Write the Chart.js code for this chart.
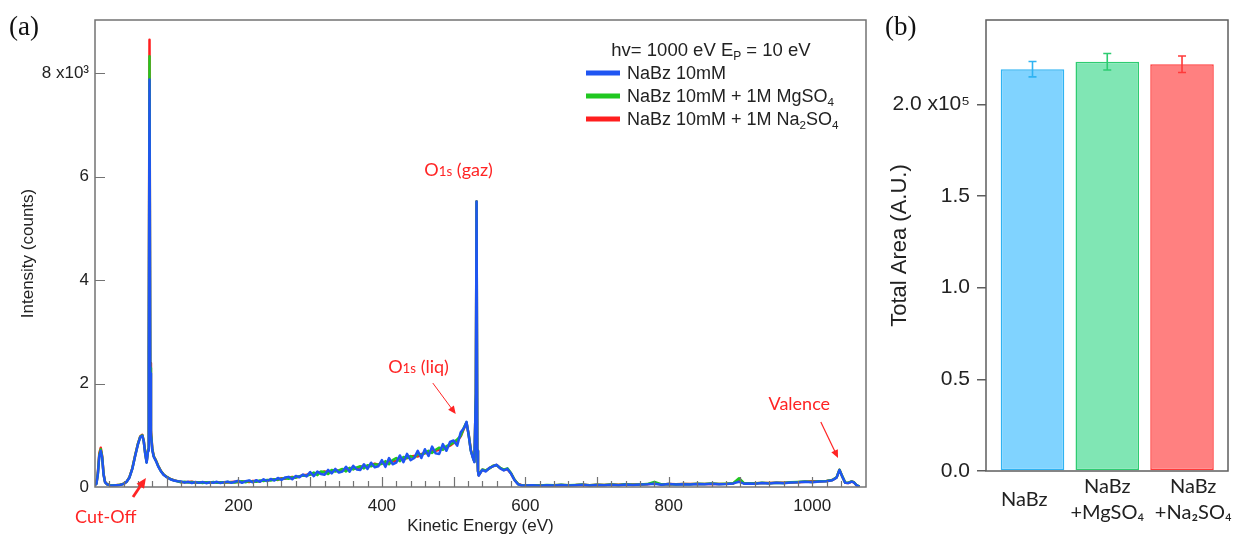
<!DOCTYPE html>
<html>
<head>
<meta charset="utf-8">
<script src="https://cdn.jsdelivr.net/npm/chart.js@4.4.1/dist/chart.umd.min.js"></script>
<style>
  body { margin: 0; background: #fff; width: 1234px; height: 540px; position: relative; overflow: hidden; }
  canvas { position: absolute; top: 0; }
  #spectre { left: 0; }
  #aire { left: 875px; }
</style>
</head>
<body>
<canvas id="spectre" width="875" height="540"></canvas>
<canvas id="aire" width="359" height="540"></canvas>
<script>
// (a) spectres : energie cinetique (eV) et intensite (coups)
const energy = [
  0, 2, 4, 6, 8, 10, 12, 14, 17, 20, 25, 30, 35, 40,
  44, 48, 52, 56, 60, 63, 66, 68, 70, 72, 74, 75, 76, 77, 78, 80, 82, 85, 88, 92, 96, 100, 105, 110, 115,
  120, 125, 130, 135, 140, 145, 150, 155, 160, 165, 170, 175, 180, 185, 190, 195,
  200, 205, 210, 215, 220, 225, 230, 235, 240, 245, 250, 255, 260, 265, 270, 275, 280, 285, 290, 295,
  300, 305, 310, 315, 320, 325, 330, 335, 340, 345, 350, 355, 360, 365, 370, 375, 380, 385, 390, 395,
  400, 405, 410, 415, 420, 425, 430, 435, 440, 445, 450, 455, 460, 465, 470, 475, 480, 485, 490, 495,
  500, 505, 510, 515,
  518, 521, 524, 527, 529, 531, 532, 533, 534,
  535, 540, 545, 550, 555, 560, 565, 570, 575, 580, 585, 590, 595, 600,
  610, 620, 630, 640, 650, 660, 670, 680, 690, 700, 710, 720, 730, 740, 750, 760, 770, 780, 790, 800,
  810, 820, 830, 840, 850, 860, 870, 880, 890,
  898, 905, 910, 920, 930, 940, 950, 960, 970, 980, 990, 1000, 1010, 1020,
  1028, 1034, 1038, 1042, 1046, 1050, 1055, 1058, 1062, 1066
];
const nabz = [
  40, 60, 250, 600, 700, 560, 230, 90, 50, 35, 30, 35, 40, 60,
  100, 180, 350, 600, 830, 960, 990, 880, 640, 470, 700, 2500, 7880, 2200, 1000, 700, 580, 500, 400, 300, 230, 190, 150, 125, 110,
  108, 84, 100, 78, 96, 80, 98, 74, 92, 82, 100, 76, 94, 104, 80, 102,
  120, 80, 112, 128, 90, 132, 100, 148, 112, 156, 124, 176, 138, 182, 196, 150, 214, 188, 240, 206,
  290, 210, 300, 250, 236, 330, 262, 350, 280, 300, 390, 296, 410, 340, 330, 440, 350, 470, 380, 400,
  520, 390, 560, 440, 470, 610, 480, 640, 520, 560, 700, 560, 730, 600, 780, 650, 640, 830, 700, 870,
  900, 800, 1060, 1150,
  1260, 1000, 700, 560, 480, 1800, 5520, 700, 300,
  220, 330, 300, 370, 400, 430, 360, 320, 350, 260, 130, 50, 30, 28,
  32, 26, 35, 30, 40, 30, 36, 44, 30, 40, 35, 45, 36, 50, 40, 46, 52, 62, 44, 56,
  46, 55, 50, 60, 54, 64, 55, 60, 70,
  100, 65, 70, 64, 76, 70, 80, 74, 86, 90, 100, 94, 105, 110,
  130, 180, 330, 200, 80, 75, 105, 90, 30, 5
];
const nabzMg = [
  40, 65, 260, 620, 730, 580, 240, 95, 50, 38, 32, 36, 42, 62,
  100, 185, 355, 610, 840, 970, 1000, 885, 650, 480, 720, 2600, 8330, 2300, 1050, 720, 590, 510, 410, 305, 235, 195, 155, 128, 112,
  92, 100, 86, 96, 84, 92, 78, 90, 84, 96, 80, 94, 86, 98, 92, 88,
  100, 110, 92, 118, 106, 100, 128, 114, 138, 126, 150, 142, 160, 172, 158, 190, 180, 210, 222, 218,
  240, 280, 230, 300, 290, 250, 330, 300, 320, 350, 300, 370, 340, 380, 400, 360, 420, 400, 440, 430,
  450, 500, 440, 520, 560, 500, 580, 560, 600, 560, 640, 620, 660, 700, 660, 720, 760, 720, 790, 820,
  860, 920, 990, 1170,
  1250, 1010, 710, 570, 490, 1800, 5520, 700, 310,
  230, 340, 320, 360, 410, 420, 370, 335, 360, 270, 140, 55, 32, 30,
  35, 30, 38, 34, 42, 34, 40, 46, 34, 44, 38, 48, 40, 52, 44, 50, 56, 100, 48, 58,
  50, 58, 54, 62, 58, 66, 58, 64, 72,
  170, 70, 74, 70, 80, 74, 84, 78, 90, 96, 104, 98, 110, 116,
  136, 186, 335, 205, 85, 80, 108, 94, 34, 8
];
const nabzNa = [
  40, 70, 280, 650, 760, 600, 250, 100, 52, 40, 34, 38, 44, 64,
  100, 190, 360, 615, 845, 975, 1010, 890, 655, 485, 730, 2700, 8650, 2400, 1100, 730, 595, 515, 415, 310, 238, 198, 158, 130, 114,
  98, 90, 96, 100, 88, 84, 92, 88, 80, 90, 94, 84, 92, 88, 96, 100,
  90, 104, 108, 96, 116, 118, 108, 132, 126, 140, 148, 136, 170, 160, 178, 196, 186, 200, 230, 236,
  250, 240, 280, 270, 300, 290, 300, 330, 310, 340, 330, 360, 380, 350, 390, 400, 400, 420, 450, 430,
  470, 460, 490, 500, 500, 550, 540, 560, 590, 600, 590, 640, 650, 660, 690, 700, 720, 740, 770, 800,
  850, 890, 980, 1150,
  1240, 1020, 720, 575, 495, 1800, 5520, 700, 315,
  225, 335, 315, 365, 405, 425, 365, 330, 345, 262, 138, 58, 34, 32,
  34, 32, 36, 36, 40, 36, 38, 44, 36, 42, 40, 46, 42, 50, 46, 48, 54, 70, 50, 56,
  52, 56, 56, 60, 60, 64, 60, 62, 70,
  150, 68, 72, 72, 78, 76, 82, 80, 88, 94, 102, 110, 108, 114,
  134, 184, 332, 204, 84, 78, 106, 92, 32, 6
];
const seriesLabels = ['NaBz 10mM', 'NaBz 10mM + 1M MgSO₄', 'NaBz 10mM + 1M Na₂SO₄'];
const seriesColors = ['#1f55f2', '#20c820', '#ff1e1e'];
const legendTitle = 'hv= 1000 eV Eₚ = 10 eV';
const yTicksA = [0, 2000, 4000, 6000, 8000];
const xMajor = [200, 400, 600, 800, 1000];

// (b) aire totale par echantillon
const samples = ['NaBz', ['NaBz', '+MgSO₄'], ['NaBz', '+Na₂SO₄']];
const labelAt = [-0.11, 1, 2.15];
const totalArea = [219200, 223200, 221900];
const areaErr = [4200, 4500, 4500];
const barFill = ['#80d3ff', '#80e6b4', '#ff8080'];
const barEdge = ['#2fb3f2', '#2ecc71', '#ff3a3a'];
const yTicksB = [0, 50000, 100000, 150000, 200000];

Chart.defaults.font.family = '"Liberation Sans", Arial, sans-serif';
Chart.defaults.color = '#222';

// texte avec indices (SO₄, Eₚ)
function textParts(str) {
  const sub = '₀₁₂₃₄₅₆₇₈₉ₚ', plain = '0123456789P';
  const out = [];
  for (const ch of str) {
    const k = sub.indexOf(ch);
    const kind = k >= 0 ? 'sub' : '';
    const c = k >= 0 ? plain[k] : ch;
    const last = out[out.length - 1];
    if (last && last[1] === kind) last[0] += c; else out.push([c, kind]);
  }
  return out;
}

function drawRich(ctx, parts, x, y, size, family, align) {
  const sizeFor = kind => kind === 'sub' ? size * 0.65 : kind === 'small' ? size * 0.74 : size;
  let total = 0;
  parts.forEach(([t, kind]) => { ctx.font = sizeFor(kind) + 'px ' + family; total += ctx.measureText(t).width; });
  let cx = align === 'center' ? x - total / 2 : x;
  const base = y + size * 0.36;
  ctx.textAlign = 'left';
  ctx.textBaseline = 'alphabetic';
  parts.forEach(([t, kind]) => {
    ctx.font = sizeFor(kind) + 'px ' + family;
    ctx.fillText(t, cx, kind === 'sub' ? base + size * 0.22 : base);
    cx += ctx.measureText(t).width;
  });
}

function arrow(ctx, x1, y1, x2, y2, w, head) {
  const a = Math.atan2(y2 - y1, x2 - x1), c = Math.cos(a), s = Math.sin(a);
  ctx.lineWidth = w;
  ctx.beginPath();
  ctx.moveTo(x1, y1);
  ctx.lineTo(x2 - c * head * 0.8, y2 - s * head * 0.8);
  ctx.stroke();
  ctx.beginPath();
  ctx.moveTo(x2, y2);
  ctx.lineTo(x2 - head * c + head * 0.45 * s, y2 - head * s - head * 0.45 * c);
  ctx.lineTo(x2 - head * c - head * 0.45 * s, y2 - head * s + head * 0.45 * c);
  ctx.closePath();
  ctx.fill();
}

// annotations en coordonnees (eV, coups)
const notes = [
  { parts: [['O', ''], ['1s', 'small'], [' (gaz)', '']], e: 507, v: 6130 },
  { parts: [['O', ''], ['1s', 'small'], [' (liq)', '']], e: 451, v: 2320 },
  { parts: [['Valence', '']], e: 982, v: 1605 },
  { parts: [['Cut-Off', '']], e: 15, v: -580 }
];
const arrows = [
  { from: [471, 2010], to: [503, 1410], w: 1, head: 8 },
  { from: [1012, 1257], to: [1036, 560], w: 1.2, head: 8 },
  { from: [53, -193], to: [71, 175], w: 2.8, head: 10 }
];

const decorA = {
  id: 'decorA',
  afterDraw(chart) {
    const { ctx, chartArea: a, scales: { x, y } } = chart;
    ctx.save();
    ctx.strokeStyle = '#737373';
    ctx.lineWidth = 1.5;
    ctx.strokeRect(a.left, a.top, a.right - a.left, a.bottom - a.top);
    // graduations vers l'interieur
    ctx.lineWidth = 1.2;
    ctx.beginPath();
    x.ticks.forEach(t => {
      if (t.value <= 0 || t.value % 20) return;
      const px = Math.round(x.getPixelForValue(t.value)) + 0.5;
      const len = t.value % 100 === 0 ? 10 : 6;
      ctx.moveTo(px, a.bottom);
      ctx.lineTo(px, a.bottom - len);
    });
    yTicksA.forEach(v => {
      if (v === 0) return;
      const py = Math.round(y.getPixelForValue(v)) + 0.5;
      ctx.moveTo(a.left, py);
      ctx.lineTo(a.left + 10, py);
    });
    ctx.stroke();

    // legende
    ctx.fillStyle = '#222';
    drawRich(ctx, textParts(legendTitle), 711, 49, 18.5, '"Liberation Sans", Arial', 'center');
    chart.data.datasets.forEach((ds, i) => {
      const ly = 73 + i * 23;
      ctx.fillStyle = ds.borderColor;
      ctx.fillRect(586, ly - 2.5, 34, 5);
      ctx.fillStyle = '#222';
      drawRich(ctx, textParts(ds.label), 627, ly, 18, '"Liberation Sans", Arial', 'left');
    });

    // annotations rouges
    ctx.fillStyle = '#ff2424';
    ctx.strokeStyle = '#ff2424';
    notes.forEach(n => {
      drawRich(ctx, n.parts, x.getPixelForValue(n.e), y.getPixelForValue(n.v), 18, 'Lato', 'center');
    });
    arrows.forEach(r => {
      arrow(ctx, x.getPixelForValue(r.from[0]), y.getPixelForValue(r.from[1]),
        x.getPixelForValue(r.to[0]), y.getPixelForValue(r.to[1]), r.w, r.head);
    });

    ctx.fillStyle = '#111';
    ctx.font = '27px "Liberation Serif", serif';
    ctx.textAlign = 'left';
    ctx.textBaseline = 'middle';
    ctx.fillText('(a)', 9, 28);
    ctx.restore();
  }
};

new Chart(document.getElementById('spectre'), {
  type: 'line',
  data: {
    datasets: [nabz, nabzMg, nabzNa].map((vals, k) => ({
      label: seriesLabels[k],
      data: energy.map((e, i) => ({ x: e, y: vals[i] })),
      borderColor: seriesColors[k],
      borderWidth: 2.5,
      borderJoinStyle: 'round',
      pointRadius: 0,
      tension: 0,
      fill: false
    }))
  },
  options: {
    responsive: false,
    animation: false,
    layout: { padding: { left: 0, top: 20, right: 9, bottom: 0 } },
    plugins: { legend: { display: false }, tooltip: { enabled: false } },
    scales: {
      x: {
        type: 'linear', min: 0, max: 1075,
        afterFit: s => { s.height = 53; },
        grid: { display: false, drawTicks: false },
        border: { display: false },
        ticks: {
          stepSize: 20, autoSkip: false, maxRotation: 0, padding: 9,
          font: { size: 17 }, color: '#222',
          callback: v => xMajor.includes(v) ? String(v) : ''
        },
        title: { display: true, text: 'Kinetic Energy (eV)', font: { size: 17 }, color: '#222', padding: { top: 0, bottom: 3 } }
      },
      y: {
        min: 0, max: 9030,
        afterFit: s => { s.width = 95; },
        afterBuildTicks: s => { s.ticks = yTicksA.map(v => ({ value: v })); },
        grid: { display: false, drawTicks: false },
        border: { display: false },
        ticks: {
          padding: 6, font: { size: 17 }, color: '#222',
          callback: v => v === 8000 ? '8 x10³' : String(v / 1000)
        },
        title: { display: true, text: 'Intensity (counts)', font: { size: 17 }, color: '#222', padding: { top: 18, bottom: 0 } }
      }
    }
  },
  plugins: [decorA]
});

const decorB = {
  id: 'decorB',
  afterDatasetsDraw(chart) {
    const { ctx, scales: { y } } = chart;
    const meta = chart.getDatasetMeta(0);
    ctx.save();
    ctx.lineWidth = 1.6;
    meta.data.forEach((bar, i) => {
      const yt = y.getPixelForValue(totalArea[i] + areaErr[i]);
      const yb = y.getPixelForValue(totalArea[i] - areaErr[i]);
      ctx.strokeStyle = barEdge[i];
      ctx.beginPath();
      ctx.moveTo(bar.x, yt); ctx.lineTo(bar.x, yb);
      ctx.moveTo(bar.x - 4, yt); ctx.lineTo(bar.x + 4, yt);
      ctx.moveTo(bar.x - 4, yb); ctx.lineTo(bar.x + 4, yb);
      ctx.stroke();
    });
    ctx.restore();
  },
  afterDraw(chart) {
    const { ctx, chartArea: a } = chart;
    ctx.save();
    ctx.strokeStyle = '#5e5e5e';
    ctx.lineWidth = 1.5;
    ctx.strokeRect(a.left, a.top, a.right - a.left, a.bottom - a.top);
    ctx.fillStyle = '#111';
    ctx.font = '27px "Liberation Serif", serif';
    ctx.textAlign = 'left';
    ctx.textBaseline = 'middle';
    ctx.fillText('(b)', 10, 28);
    ctx.restore();
  }
};

new Chart(document.getElementById('aire'), {
  type: 'bar',
  data: {
    datasets: [{
      data: totalArea.map((v, i) => ({ x: i, y: v })),
      backgroundColor: barFill,
      borderColor: barEdge,
      borderWidth: 1.5,
      borderSkipped: false,
      barPercentage: 0.85,
      categoryPercentage: 1
    }]
  },
  options: {
    responsive: false,
    animation: false,
    layout: { padding: { left: 0, top: 20, right: 6, bottom: 0 } },
    plugins: { legend: { display: false }, tooltip: { enabled: false } },
    scales: {
      x: {
        type: 'linear', min: -0.622, max: 2.615, offset: false,
        afterBuildTicks: s => { s.ticks = labelAt.map(v => ({ value: v })); },
        afterFit: s => { s.height = 69; s.paddingLeft = 0; s.paddingRight = 0; },
        grid: { display: false, drawTicks: false, offset: false },
        border: { display: false },
        ticks: {
          padding: 16, autoSkip: false, maxRotation: 0, crossAlign: 'center',
          font: { family: 'Lato', size: 20, lineHeight: 1.3 }, color: '#222',
          callback: (v, i) => samples[i]
        }
      },
      y: {
        min: 0, max: 246000,
        afterFit: s => { s.width = 111; },
        afterBuildTicks: s => { s.ticks = yTicksB.map(v => ({ value: v })); },
        grid: { drawOnChartArea: false, drawTicks: true, tickLength: 9, color: '#5e5e5e', lineWidth: 1.5 },
        border: { display: false },
        ticks: {
          padding: 7, font: { size: 21 }, color: '#222',
          callback: v => v === 200000 ? '2.0 x10⁵' : (v / 100000).toFixed(1)
        },
        title: { display: true, text: 'Total Area (A.U.)', font: { size: 22 }, color: '#222', padding: { top: 12, bottom: 0 } }
      }
    }
  },
  plugins: [decorB]
});
</script>
</body>
</html>
